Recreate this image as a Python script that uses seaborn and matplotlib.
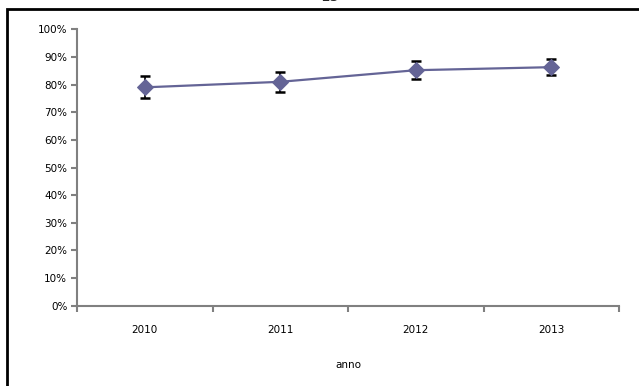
import matplotlib
matplotlib.use("Agg")
import matplotlib.pyplot as plt
import seaborn as sns
import pandas as pd
import numpy as np
from matplotlib.patches import Rectangle
from matplotlib.ticker import FixedLocator, PercentFormatter

years = ["2010", "2011", "2012", "2013"]
values = [0.79, 0.81, 0.852, 0.863]
errors = [0.04, 0.036, 0.033, 0.029]
yticks = [0, 0.1, 0.2, 0.3, 0.4, 0.5, 0.6, 0.7, 0.8, 0.9, 1.0]
title = "15"
xlabel = "anno"

sns.set_style("white")
plt.rcParams['font.family'] = ['DejaVu Sans']

W, H = 639, 386
fig = plt.figure(figsize=(W / 100, H / 100), dpi=100)
ax = fig.add_axes([77 / W, 1 - 305.7 / H, (619 - 77) / W, (305.7 - 29.3) / H])

df = pd.DataFrame({"pos": np.arange(len(years)), "val": values})
color = "#646496"
ax.errorbar(df["pos"], df["val"], yerr=errors, fmt="none", ecolor="black",
            elinewidth=1.2, capsize=3.5, capthick=1.8, zorder=2)
sns.lineplot(data=df, x="pos", y="val", ax=ax, color=color, linewidth=1.6,
             marker="D", markersize=8, markeredgecolor=color, zorder=3)

ax.set_xlim(-0.5, len(years) - 0.5)
ax.set_ylim(0, 1)
ax.set_yticks(yticks)
ax.yaxis.set_major_formatter(PercentFormatter(1.0, decimals=0))
ax.set_xticks(np.arange(len(years)))
ax.set_xticklabels(years)
ax.xaxis.set_minor_locator(FixedLocator(np.arange(len(years) + 1) - 0.5))
ax.tick_params(axis="x", which="major", bottom=True, length=0, pad=14, labelsize=7.5, labelcolor="black")
ax.tick_params(axis="x", which="minor", bottom=True, length=4, width=1.5, color="#808080", direction="out")
ax.tick_params(axis="y", left=True, length=4, width=1.5, color="#808080", direction="out",
               labelsize=7.5, pad=3, labelcolor="black")
for s in ["top", "right"]:
    ax.spines[s].set_visible(False)
for s in ["left", "bottom"]:
    ax.spines[s].set_color("#808080")
    ax.spines[s].set_linewidth(1.5)
ax.set_xlabel(xlabel, fontsize=7.5, labelpad=18, color="black")
ax.set_ylabel("")
ax.grid(False)

fig.patches.append(Rectangle((7 / W, -0.01), 1.0, 1 - 9 / H + 0.01, transform=fig.transFigure,
                             fill=False, edgecolor="black", linewidth=2))
fig.text(330 / W, 1 - 4 / H, title, ha="center", va="bottom", fontsize=11)

fig.savefig("out.png", dpi=100)
